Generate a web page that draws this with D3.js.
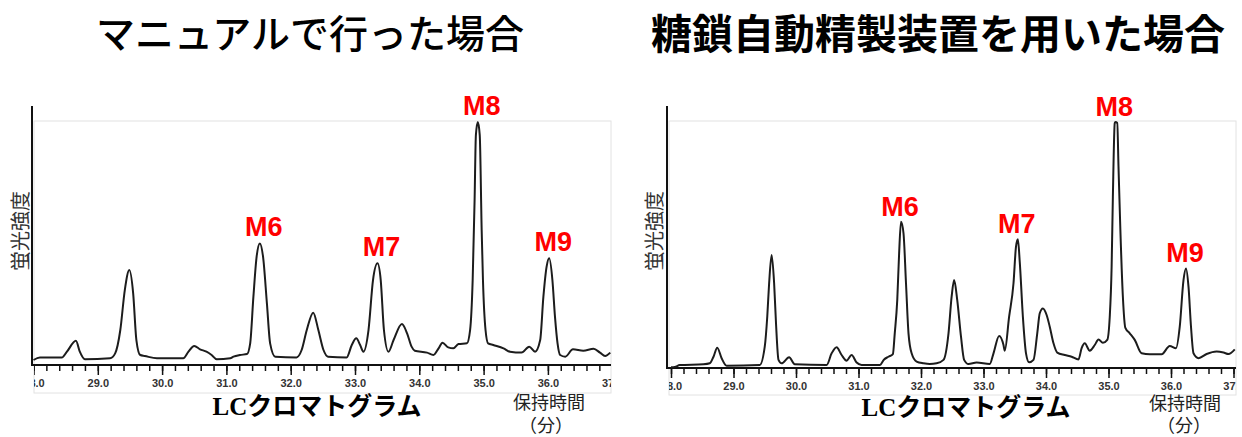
<!DOCTYPE html>
<html><head><meta charset="utf-8">
<script src="https://cdn.jsdelivr.net/npm/d3@7"></script>
<style>
html,body{margin:0;padding:0;background:#fff;}
svg{display:block;}
</style></head>
<body>
<svg id="chart" width="1242" height="437"></svg>
<script>
// ===== DATA =====
const panelTitles = ["マニュアルで行った場合", "糖鎖自動精製装置を用いた場合"];
const yAxisLabel = "蛍光強度";
const xAxisTitle = "LCクロマトグラム";
const xUnitLine1 = "保持時間";
const xUnitLine2 = "（分）";
const xTickValues = [28, 29, 30, 31, 32, 33, 34, 35, 36, 37];
const peakNames = ["M6", "M7", "M8", "M9"];
const peakTimesManual = [31.52, 33.35, 34.91, 36.02];
const peakTimesAuto = [31.68, 33.55, 35.11, 36.24];

// retention time (min), fluorescence intensity (relative, M8 = 100)
const traceManual = [
[28.00,0],[28.10,1.0],[28.44,1.0],[28.52,3.5],[28.66,8.1],[28.72,3.5],[28.80,0.3],[29.19,0.7],
[29.27,2.8],[29.35,12.6],[29.42,29.4],[29.49,37.8],[29.55,28.0],[29.60,8.4],[29.66,2.1],[29.73,1.7],
[29.92,0.7],[30.33,0.7],[30.41,3.5],[30.50,5.9],[30.59,4.5],[30.69,3.5],[30.77,2.1],[30.85,0.3],
[31.06,0.7],[31.11,1.4],[31.21,2.1],[31.32,2.5],[31.37,7.0],[31.42,26.6],[31.47,43.4],[31.52,49.0],
[31.57,43.4],[31.63,23.8],[31.68,7.0],[31.76,1.4],[32.09,1.1],[32.17,4.2],[32.25,12.6],[32.35,19.9],
[32.43,12.6],[32.51,4.2],[32.58,1.4],[32.87,1.1],[32.95,6.3],[33.02,9.1],[33.08,6.3],[33.13,3.5],
[33.21,12.6],[33.28,33.6],[33.35,40.6],[33.40,33.6],[33.45,12.6],[33.52,3.5],[33.60,8.4],[33.73,15.1],
[33.81,11.2],[33.88,5.6],[33.93,3.9],[34.12,3.1],[34.22,2.1],[34.30,4.9],[34.36,7.3],[34.45,5.3],
[34.53,4.9],[34.61,6.7],[34.74,7.0],[34.79,12.6],[34.83,33.6],[34.86,67.2],[34.88,94.5],[34.91,100],
[34.94,94.5],[34.97,54.6],[34.99,33.6],[35.03,12.6],[35.07,7.0],[35.15,6.3],[35.31,4.9],[35.41,3.5],
[35.59,3.1],[35.71,5.6],[35.80,3.5],[35.88,8.4],[35.93,26.6],[35.98,39.2],[36.02,42.7],[36.07,33.6],
[36.11,18.2],[36.15,7.0],[36.19,2.1],[36.27,1.4],[36.39,4.5],[36.55,3.9],[36.71,4.7],[36.81,3.1],
[36.89,1.7],[36.97,3.1]
];
const traceAuto = [
[28.00,-0.5],[28.06,-0.4],[28.14,0.4],[28.52,0.7],[28.62,1.1],[28.68,3.8],[28.74,7.5],[28.81,3.2],
[28.89,0.1],[29.42,0.4],[29.50,7.9],[29.54,20.2],[29.57,33.9],[29.61,45.5],[29.65,33.9],[29.68,17.5],
[29.72,2.5],[29.77,1.1],[29.89,3.6],[29.98,0.7],[30.49,0.4],[30.57,5.2],[30.65,7.7],[30.73,4.5],
[30.81,2.2],[30.89,4.5],[30.97,1.4],[31.05,0.4],[31.34,0.4],[31.41,2.7],[31.48,3.8],[31.55,4.9],
[31.58,13.4],[31.62,27.0],[31.65,46.2],[31.68,59.1],[31.72,54.4],[31.76,33.9],[31.80,13.4],[31.85,5.2],
[31.93,1.8],[32.04,1.1],[32.14,0.8],[32.25,1.1],[32.36,2.5],[32.44,13.4],[32.49,28.4],[32.53,35.2],
[32.58,27.0],[32.64,12.0],[32.69,2.5],[32.76,0.8],[32.89,1.4],[33.10,0.8],[33.16,5.2],[33.25,12.3],
[33.32,8.6],[33.34,6.3],[33.41,20.2],[33.48,33.9],[33.52,48.9],[33.55,51.9],[33.58,42.7],[33.63,20.2],
[33.68,5.2],[33.73,1.5],[33.80,2.5],[33.86,13.4],[33.90,21.6],[33.95,23.6],[34.01,20.9],[34.06,16.1],
[34.12,9.3],[34.18,5.5],[34.30,4.5],[34.41,3.8],[34.52,2.7],[34.57,7.3],[34.62,9.3],[34.70,6.3],
[34.78,8.6],[34.84,10.9],[34.91,9.5],[34.98,10.7],[35.02,20.2],[35.05,40.7],[35.07,69.4],[35.10,99.6],
[35.11,100],[35.14,99.6],[35.16,81.7],[35.19,55.7],[35.23,28.4],[35.27,15.6],[35.34,13.4],[35.42,10.7],
[35.53,5.2],[35.66,4.8],[35.85,4.8],[35.98,8.2],[36.08,7.3],[36.14,16.1],[36.20,35.2],[36.24,40.0],
[36.28,32.5],[36.32,16.1],[36.36,5.2],[36.44,3.2],[36.57,4.9],[36.73,5.9],[36.84,5.5],[36.92,4.9],
[37.02,6.8]
];

// ===== LAYOUT =====
const panels = [
  {title: panelTitles[0], trace: traceManual, peaks: peakTimesManual,
   xr: [33.5, 612.2], yr: [360, 122], axisY: 365, yAxisX: 32, yAxisTop: 106,
   frame: [34, 121, 611, 393], titleX: 310, titleSize: 39, titleWeight: 500,
   ylabX: 19, lcX: 317, lcY: 415, holdX: 549, holdY: 409, bunX: 546, bunDy: 23,
   labDx: 4, labDy: -7},
  {title: panelTitles[1], trace: traceAuto, peaks: peakTimesAuto,
   xr: [671, 1233.5], yr: [366, 122], axisY: 368, yAxisX: 667, yAxisTop: 106,
   frame: [669, 121, 1236, 395], titleX: 938, titleSize: 41, titleWeight: 700,
   ylabX: 653, lcX: 966, lcY: 416, holdX: 1185, holdY: 410, bunX: 1184, bunDy: 22,
   labDx: -1, labDy: -6}
];

const svg = d3.select("#chart");
const jp = "'Noto Sans CJK JP', sans-serif";

panels.forEach((p, i) => {
  const g = svg.append("g");
  const x = d3.scaleLinear().domain([28, 37]).range(p.xr);
  const y = d3.scaleLinear().domain([0, 100]).range(p.yr);
  const [fx0, fy0, fx1, fy1] = p.frame;

  // title
  g.append("text").attr("x", p.titleX).attr("y", 31)
    .attr("text-anchor", "middle").attr("dominant-baseline", "central")
    .style("font-family", jp).style("font-size", p.titleSize + "px")
    .style("font-weight", p.titleWeight).attr("fill", "#000").text(p.title);

  // light frame
  g.append("rect").attr("x", fx0).attr("y", fy0)
    .attr("width", fx1 - fx0).attr("height", fy1 - fy0)
    .attr("fill", "none").attr("stroke", "#e2e2e2").attr("stroke-width", 1);

  // clip for ticks/labels (in page coordinates)
  const cid = "clip" + i;
  svg.append("clipPath").attr("id", cid).append("rect")
    .attr("x", fx0).attr("y", p.axisY - 2).attr("width", fx1 - fx0).attr("height", fy1 - p.axisY + 2);

  const clipG = g.append("g").attr("clip-path", `url(#${cid})`);
  const axG = clipG.append("g").attr("transform", `translate(0,${p.axisY})`);
  const minor = axG.append("g").call(
    d3.axisBottom(x).ticks(45).tickSize(6).tickSizeOuter(0).tickFormat(""));
  minor.select(".domain").remove();
  minor.selectAll("line").attr("stroke", "#111").attr("stroke-width", 1.5);
  const major = axG.append("g").call(
    d3.axisBottom(x).tickValues(xTickValues).tickSize(10).tickSizeOuter(0)
      .tickPadding(4).tickFormat(d3.format(".1f")));
  major.select(".domain").remove();
  major.selectAll("line").attr("stroke", "#111").attr("stroke-width", 1.5);
  major.selectAll("text").style("font-family", "'Liberation Sans', Arial, sans-serif")
    .style("font-size", "11px").style("font-weight", "bold").attr("fill", "#333");

  // axis lines
  g.append("line").attr("x1", p.yAxisX).attr("x2", fx1).attr("y1", p.axisY).attr("y2", p.axisY)
    .attr("stroke", "#111").attr("stroke-width", 2);
  g.append("line").attr("x1", p.yAxisX).attr("x2", p.yAxisX).attr("y1", p.yAxisTop).attr("y2", p.axisY + 1)
    .attr("stroke", "#111").attr("stroke-width", 2);

  // trace
  const line = d3.line().x(d => x(d[0])).y(d => y(d[1])).curve(d3.curveMonotoneX);
  g.append("path").datum(p.trace).attr("d", line)
    .attr("fill", "none").attr("stroke", "#1c1c1c").attr("stroke-width", 2)
    .attr("stroke-linejoin", "round");

  // peak labels
  p.peaks.forEach((t, k) => {
    const pt = p.trace.find(d => d[0] === t);
    g.append("text").attr("x", x(t) + p.labDx).attr("y", y(pt[1]) + p.labDy)
      .attr("text-anchor", "middle")
      .style("font-family", "'Liberation Sans', Arial, sans-serif")
      .style("font-size", "27px").style("font-weight", "bold")
      .attr("fill", "#ff0000").text(peakNames[k]);
  });

  // y axis label
  g.append("text").attr("transform", `translate(${p.ylabX},231) rotate(-90)`)
    .attr("text-anchor", "middle").attr("dominant-baseline", "central")
    .style("font-family", jp).style("font-size", "20px").attr("fill", "#333").text(yAxisLabel);

  // x title
  g.append("text").attr("x", p.lcX).attr("y", p.lcY).attr("text-anchor", "middle")
    .style("font-family", "'Liberation Serif', 'Noto Sans CJK JP', serif")
    .style("font-size", "25px").style("font-weight", "bold").attr("fill", "#000").text(xAxisTitle);

  // unit (two lines in one text element)
  const u = g.append("text").attr("text-anchor", "middle")
    .style("font-family", jp).style("font-size", "18px").attr("fill", "#222");
  u.append("tspan").attr("x", p.holdX).attr("y", p.holdY).text(xUnitLine1);
  u.append("tspan").attr("x", p.bunX).attr("dy", p.bunDy).text(xUnitLine2);
});
</script>
</body></html>
